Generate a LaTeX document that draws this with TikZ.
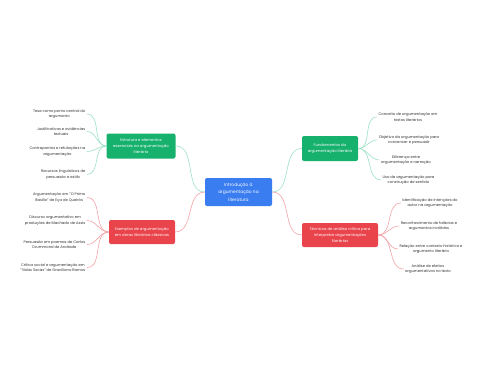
\documentclass[tikz,border=0pt]{standalone}
\usepackage{fontspec}
\setmainfont{Poppins}
\usetikzlibrary{positioning}
\definecolor{mmBlue}{HTML}{3A7DF0}
\definecolor{mmGreen}{HTML}{17B16E}
\definecolor{mmRed}{HTML}{E9434B}
\definecolor{mmGreenLine}{HTML}{9DE2C6}
\definecolor{mmRedLine}{HTML}{F4A3A7}
\definecolor{mmText}{HTML}{333333}
\begin{document}
\begin{tikzpicture}[x=1pt,y=-1pt,
  blk/.style={rounded corners=2pt,align=center,text=white,inner sep=1pt},
  root/.style={blk,fill=mmBlue,minimum width=67pt,minimum height=28pt,font=\fontsize{4.4}{7.4}\selectfont},
  grn/.style={blk,fill=mmGreen,minimum height=25pt,font=\fontsize{3.8}{6}\selectfont},
  red/.style={blk,fill=mmRed,minimum height=24pt,font=\fontsize{3.8}{6}\selectfont},
  leaf/.style={align=center,text=mmText,inner sep=1.5pt,font=\fontsize{3.7}{5.5}\selectfont},
  gcon/.style={draw=mmGreenLine,line width=0.6pt},
  rcon/.style={draw=mmRedLine,line width=0.6pt}]
  \useasboundingbox[fill=white] (0,0) rectangle (480,384);
  % central topic and main branches
  \node[root] (intro) at (238.5,192) {Introdução à\\ argumentação na\\ literatura};
  \node[grn,minimum width=69pt] (estr) at (141,146) {Estrutura e elementos\\ essenciais na argumentação\\ literária};
  \node[red,minimum width=66pt] (exem) at (142,232) {Exemplos de argumentação\\ em obras literárias clássicas};
  \node[grn,minimum width=56pt] (fund) at (330,148.5) {Fundamentos da\\ argumentação literária};
  \node[red,minimum width=76pt] (tecn) at (340,235) {Técnicas de análise crítica para\\ interpretar argumentações\\ literárias};
  % leaves, left side
  \node[leaf,anchor=east] (e1) at (87,114) {Tese como ponto central do\\ argumento};
  \node[leaf,anchor=east] (e2) at (87,131.5) {Justificativas e evidências\\ textuais};
  \node[leaf,anchor=east] (e3) at (87,151.5) {Contrapontos e refutações na\\ argumentação};
  \node[leaf,anchor=east] (e4) at (87,174.5) {Recursos linguísticos de\\ persuasão e estilo};
  \node[leaf,anchor=east] (x1) at (87,197.5) {Argumentação em "O Primo\\ Basílio" de Eça de Queirós};
  \node[leaf,anchor=east] (x2) at (87,220.5) {Discurso argumentativo em\\ produções de Machado de Assis};
  \node[leaf,anchor=east] (x3) at (87,244.5) {Persuasão em poemas de Carlos\\ Drummond de Andrade};
  \node[leaf,anchor=east] (x4) at (87,267.5) {Crítica social e argumentação em\\ "Vidas Secas" de Graciliano Ramos};
  % leaves, right side
  \node[leaf] (f1) at (408,117) {Conceito de argumentação em\\ textos literários};
  \node[leaf] (f2) at (409,140) {Objetivo da argumentação para\\ convencer e persuadir};
  \node[leaf] (f3) at (406,160) {Diferença entre\\ argumentação e narração};
  \node[leaf] (f4) at (408.5,180) {Uso da argumentação para\\ construção de sentido};
  \node[leaf] (t1) at (430,203) {Identificação de intenções do\\ autor na argumentação};
  \node[leaf] (t2) at (429,226) {Reconhecimento de falácias e\\ argumentos inválidos};
  \node[leaf] (t3) at (431,249) {Relação entre contexto histórico e\\ argumento literário};
  \node[leaf] (t4) at (428,269) {Análise de efeitos\\ argumentativos no texto};
  % connectors
  \draw[gcon] (intro.west) to[out=180,in=0] (estr.east);
  \draw[rcon] (intro.west) to[out=180,in=0] (exem.east);
  \draw[gcon] (intro.east) to[out=0,in=180] (fund.west);
  \draw[rcon] (intro.east) to[out=0,in=180] (tecn.west);
  \foreach \n in {e1,e2,e3,e4}{\draw[gcon] (estr.west) to[out=180,in=0] (\n.east);}
  \foreach \n in {x1,x2,x3,x4}{\draw[rcon] (exem.west) to[out=180,in=0] (\n.east);}
  \foreach \n in {f1,f2,f3,f4}{\draw[gcon] (fund.east) to[out=0,in=180] (\n.west);}
  \foreach \n in {t1,t2,t3,t4}{\draw[rcon] (tecn.east) to[out=0,in=180] (\n.west);}
\end{tikzpicture}
\end{document}
